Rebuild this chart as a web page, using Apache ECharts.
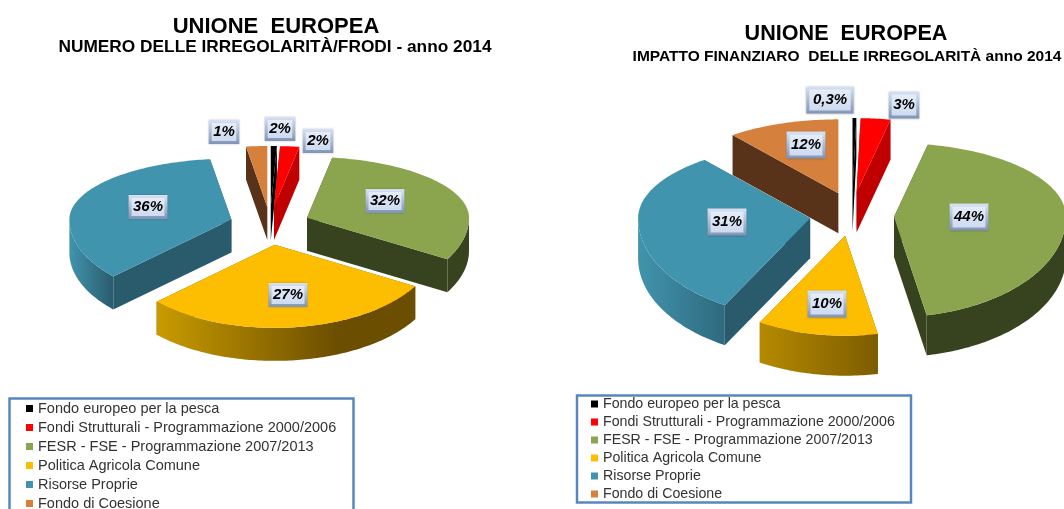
<!DOCTYPE html>
<html><head><meta charset="utf-8">
<style>html,body{margin:0;padding:0;background:#fff}#c{width:1064px;height:509px}</style>
<script src="https://cdn.jsdelivr.net/npm/echarts@6/dist/echarts.min.js"></script>
</head><body><div id="c"></div>
<script>
// ---- data ----
const categories = ['Fondo europeo per la pesca','Fondi Strutturali - Programmazione 2000/2006','FESR - FSE - Programmazione 2007/2013','Politica Agricola Comune','Risorse Proprie','Fondo di Coesione'];
const numeroValues  = [0.6, 1.9, 30.8, 29.7, 34.9, 2.1];
const numeroLabels  = ['2%','2%','32%','27%','36%','1%'];
const impattoValues = [0.36, 2.8, 43.8, 11.3, 31.2, 10.54];
const impattoLabels = ['0,3%','3%','44%','10%','31%','12%'];

// ---- styles and layout ----
const FONT = '"Liberation Sans", Arial, sans-serif';
const topColors  = ['#000000','#ff0000','#8aa54e','#fdbd00','#4194ad','#d5803d'];
const wallColors = ['#000000','#c00000','#37421f','#6b4e00','#2a5b6d','#58331a'];
const drawOrder = [5,0,1,4,2,3];
const pies = [
  {id:'n', values:numeroValues, labels:numeroLabels, cx:270, cy:226, rx:162, ryBack:61, ryFront:83, depth:33, ex:41, eyBack:19, eyFront:19,
   rim:{3:[[0,'#c99b00'],[0.7,'#6b4e00'],[1,'#6b4e00']],4:[[0,'#4194ad'],[1,'#2a5b6d']],2:[[0,'#37421f'],[1,'#37421f']]},
   labelPos:[[280,129],[318,141],[385,201],[288,295],[148,207],[224,132]], boxH:24},
  {id:'i', values:impattoValues, labels:impattoLabels, cx:852, cy:217, rx:172, ryBack:74, ryFront:100, depth:40, ex:42, eyBack:25, eyFront:19,
   rim:{3:[[0,'#b58a00'],[1,'#7d5c00']],4:[[0,'#4194ad'],[1,'#2f6a7e']],2:[[0,'#37421f'],[1,'#37421f']]},
   labelPos:[[830,100],[904,105],[969,217],[827,304],[727,222],[806,145]], boxH:27}
];

function slicePts(p, idx){
  const total = p.values.reduce((a,b)=>a+b,0);
  let start = 0;
  for(let i=0;i<idx;i++) start += p.values[i]/total*360;
  const end = start + p.values[idx]/total*360;
  const mid = (start+end)/2*Math.PI/180;
  const c = Math.cos(mid);
  const ax = p.cx + p.ex*Math.sin(mid);
  const ay = p.cy - (c>=0 ? p.eyBack : p.eyFront)*c;
  const at = d=>{
    const t=d*Math.PI/180, k=Math.cos(t);
    return [ax+p.rx*Math.sin(t), ay-(k>=0?p.ryBack:p.ryFront)*k];
  };
  const arc=(a,b)=>{const r=[];const n=Math.max(2,Math.ceil(Math.abs(b-a)));for(let i=0;i<=n;i++)r.push(at(a+(b-a)*i/n));return r;};
  return {apex:[ax,ay],start,end,at,arc};
}
function makeRender(p, idx){
  return function(){
    const s = slicePts(p, idx), d = p.depth;
    const down = q=>[q[0],q[1]+d];
    const wall = q=>({type:'polygon',shape:{points:[s.apex,q,down(q),down(s.apex)]},style:{fill:wallColors[idx]}});
    const children = [wall(s.at(s.start)), wall(s.at(s.end))];
    const a=Math.max(s.start,90), b=Math.min(s.end,270);
    if(b>a){
      const top=s.arc(a,b);
      const stops=(p.rim[idx]||[[0,wallColors[idx]],[1,wallColors[idx]]]).map(x=>({offset:x[0],color:x[1]}));
      children.push({type:'polygon',shape:{points:top.concat(top.slice().reverse().map(down))},
        style:{fill:new echarts.graphic.LinearGradient(0,0,1,0,stops)}});
    }
    children.push({type:'polygon',shape:{points:[s.apex].concat(s.arc(s.start,s.end))},style:{fill:topColors[idx]}});
    return {type:'group',children};
  };
}
const series=[];
pies.forEach(p=>drawOrder.forEach(i=>{
  series.push({type:'custom',name:categories[i],coordinateSystem:'none',silent:true,
    itemStyle:{color:topColors[i]},data:[[p.values[i]]],renderItem:makeRender(p,i)});
}));
function labelBox(text,pos,h){
  const w = text.length*8.3+14;
  const x=pos[0]-w/2,y=pos[1]-h/2;
  return [
    {type:'rect',z:50,silent:true,shape:{x:x,y:y,width:w,height:h},style:{fill:new echarts.graphic.LinearGradient(0,0,0,1,[{offset:0,color:'#d7e2f3'},{offset:1,color:'#8294b5'}]),shadowBlur:2,shadowColor:'rgba(0,0,0,0.25)'}},
    {type:'rect',z:51,silent:true,shape:{x:x+3,y:y+3,width:w-6,height:h-6},style:{fill:new echarts.graphic.LinearGradient(0,0,0,1,[{offset:0,color:'#e6edf8'},{offset:1,color:'#cddaf0'}])}},
    {type:'text',z:52,silent:true,x:pos[0],y:pos[1],style:{text:text,font:'italic bold 15px '+FONT,fill:'#000',align:'center',verticalAlign:'middle'}}
  ];
}
const graphics=[
  {type:'rect',z:40,silent:true,shape:{x:9.5,y:398.5,width:344,height:130},style:{fill:'#fff',stroke:'#5a86c0',lineWidth:2.5}},
  {type:'rect',z:40,silent:true,shape:{x:577,y:395.5,width:334,height:107},style:{fill:'#fff',stroke:'#5a86c0',lineWidth:2.5}}
];
pies.forEach(p=>p.labels.forEach((t,i)=>graphics.push(...labelBox(t,p.labelPos[i],p.boxH))));
const legendBase={orient:'vertical',data:categories,icon:'rect',itemWidth:7,itemHeight:7,selectedMode:false,z:60,padding:0};
const legendText=s=>({fontFamily:FONT,fontSize:s,color:'#333'});
const titleStyle=s=>({fontFamily:FONT,fontWeight:'bold',fontSize:s,color:'#000'});
const chart=echarts.init(document.getElementById('c'),null,{renderer:'canvas'});
chart.setOption({
  animation:false,backgroundColor:'#fff',
  title:[
    {text:'UNIONE  EUROPEA',left:276,top:16,textAlign:'center',padding:0,textStyle:titleStyle(22)},
    {text:'NUMERO DELLE IRREGOLARITÀ/FRODI - anno 2014',left:275,top:39,textAlign:'center',padding:0,textStyle:titleStyle(17.3)},
    {text:'UNIONE  EUROPEA',left:846,top:23,textAlign:'center',padding:0,textStyle:titleStyle(21.6)},
    {text:'IMPATTO FINANZIARO  DELLE IRREGOLARITÀ anno 2014',left:847,top:49,textAlign:'center',padding:0,textStyle:titleStyle(15.5)}
  ],
  legend:[
    Object.assign({},legendBase,{left:26,top:401,height:125,itemGap:4,textStyle:legendText(14.5)}),
    Object.assign({},legendBase,{left:591,top:397,height:110,itemGap:4,textStyle:legendText(14.2)})
  ],
  graphic:graphics,
  series:series
});
</script></body></html>
